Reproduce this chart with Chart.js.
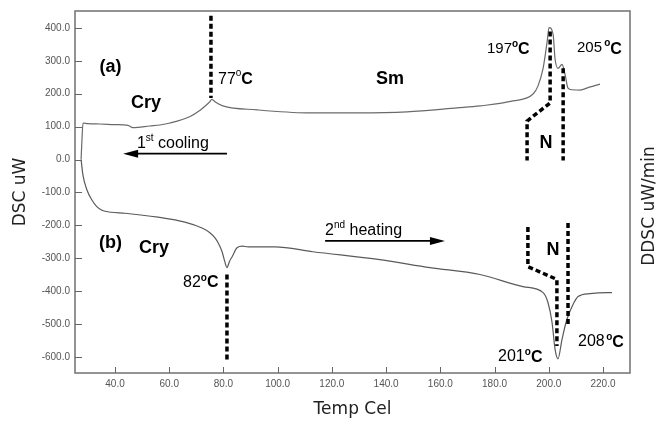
<!DOCTYPE html>
<html><head><meta charset="utf-8">
<script src="https://cdn.jsdelivr.net/npm/chart.js@4.4.1/dist/chart.umd.min.js"></script>
<style>html,body{margin:0;padding:0;background:#fff}#wrap{width:672px;height:421px}</style>
</head><body><div id="wrap"><canvas id="c" width="672" height="421"></canvas></div>
<script>
// ---- data (Temp Cel, DSC uW) ----
const coolingTemp = [218.9, 215.0, 211.5, 208.5, 207.1, 206.0, 204.9, 203.4, 202.3, 201.6, 200.1, 199.4, 197.9, 196.0, 194.2, 186.8, 174.6, 166.2, 147.7, 129.3, 110.8, 92.4, 79.8, 77.0, 75.7, 75.0, 73.5, 71.4, 67.7, 60.3, 56.6, 52.9, 46.6, 44.8, 40.0, 34.5, 30.0, 28.2, 27.8, 27.5];
const coolingDSC  = [229, 220, 211, 212, 217, 259, 289, 277, 307, 380, 401, 358, 277, 223, 199, 178, 163, 157, 145, 142, 142, 151, 163, 175, 183, 176, 164, 150, 131, 111, 105, 102, 97, 104, 106, 108, 109, 111, 57, 0];
const heatingTemp = [27.5, 28.2, 29.7, 31.5, 33.2, 35.2, 38.5, 43.7, 55.9, 65.8, 72.1, 75.0, 76.9, 78.5, 79.5, 80.5, 81.3, 82.2, 83.2, 85.0, 87.0, 89.1, 99.0, 113.0, 137.7, 156.2, 174.6, 190.5, 197.9, 199.7, 201.2, 202.3, 203.4, 204.9, 206.7, 208.6, 210.8, 215.2, 221.5, 223.3];
const heatingDSC  = [0, -48, -93, -123, -142, -154, -160, -163, -175, -190, -208, -222, -238, -260, -280, -310, -328, -310, -295, -268, -263, -265, -265, -280, -304, -328, -349, -386, -404, -434, -494, -575, -605, -545, -485, -446, -416, -407, -404, -404];
const xTickValues = [40, 60, 80, 100, 120, 140, 160, 180, 200, 220];
const yTickValues = [-600, -500, -400, -300, -200, -100, 0, 100, 200, 300, 400];
// dashed transition markers (Temp, DSC)
const mark77T  = [75.4, 75.4];            const mark77V  = [437, 187];
const mark82T  = [81.3, 81.3];            const mark82V  = [-349, -614];
const mark197T = [200.5, 200.5, 192.0, 192.0]; const mark197V = [389, 172, 117, -3];
const mark205T = [205.3, 205.3];          const mark205V = [277, -3];
const mark201T = [192.3, 192.3, 203.0, 203.0]; const mark201V = [-205, -325, -364, -566];
const mark208T = [207.1, 207.1];          const mark208V = [-193, -506];

const pts = (xs, ys) => xs.map((x, i) => ({x, y: ys[i]}));
const SANS = '"Liberation Sans", Arial, sans-serif';

// annotation texts: anchor in data units (Temp, DSC baseline)
const labels = [
  {x: 38.3, y: 265, align: 'center', seg: [['(a)', 'bold 18px']]},
  {x: 51.4, y: 157, align: 'center', seg: [['Cry', 'bold 18px']]},
  {x: 78.0, y: 229, align: 'left', seg: [['77', '16px'], ['o', '10px', -8], ['C', 'bold 16px']]},
  {x: 141.4, y: 229, align: 'center', seg: [['Sm', 'bold 18px']]},
  {x: 177.2, y: 325, align: 'left', seg: [['197', '15px'], ['o', 'bold 10px', -6], ['C', 'bold 16px', 1]]},
  {x: 210.4, y: 328, align: 'left', seg: [['205', '15px'], [' ', '8px'], ['o', 'bold 10px', -6], ['C', 'bold 16px', 2]]},
  {x: 199.0, y: 36, align: 'center', seg: [['N', 'bold 18px']]},
  {x: 48.1, y: 36, align: 'left', seg: [['1', '16px'], ['st', '10px', -7], [' cooling', '16px']]},
  {x: 117.5, y: -229, align: 'left', seg: [['2', '16px'], ['nd', '10px', -7], [' heating', '16px']]},
  {x: 38.3, y: -268, align: 'center', seg: [['(b)', 'bold 18px']]},
  {x: 54.4, y: -283, align: 'center', seg: [['Cry', 'bold 18px']]},
  {x: 65.1, y: -386, align: 'left', seg: [['82', '16px'], ['o', 'bold 10px', -6], ['C', 'bold 16px']]},
  {x: 201.6, y: -289, align: 'center', seg: [['N', 'bold 18px']]},
  {x: 181.3, y: -611, align: 'left', seg: [['201', '16px'], ['o', 'bold 10px', -6], ['C', 'bold 16px', 1]]},
  {x: 210.8, y: -566, align: 'left', seg: [['208', '16px'], [' ', '5px'], ['o', 'bold 10px', -6], ['C', 'bold 16px', 1]]},
];
// arrows: [tailT, tailV, tipT, tipV]
const arrows = [[81.3, 18, 43.0, 18], [117.5, -247, 161.7, -247]];

const deco = {
  id: 'deco',
  afterDatasetsDraw(chart) {
    const {ctx, chartArea: a, scales: {x, y}} = chart;
    ctx.save();
    // frame
    ctx.strokeStyle = '#707070'; ctx.lineWidth = 1.5;
    ctx.strokeRect(a.left, a.top, a.right - a.left, a.bottom - a.top);
    // inward ticks
    ctx.lineWidth = 1; ctx.strokeStyle = '#666';
    ctx.beginPath();
    xTickValues.forEach(v => { const p = Math.round(x.getPixelForValue(v)) + 0.5; ctx.moveTo(p, a.bottom); ctx.lineTo(p, a.bottom - 6); });
    yTickValues.forEach(v => { const p = Math.round(y.getPixelForValue(v)) + 0.5; ctx.moveTo(a.left, p); ctx.lineTo(a.left + 7, p); });
    ctx.stroke();
    // arrows
    ctx.strokeStyle = '#000'; ctx.fillStyle = '#000'; ctx.lineWidth = 1.6;
    arrows.forEach(([t0, v0, t1, v1]) => {
      const x0 = x.getPixelForValue(t0), y0 = y.getPixelForValue(v0);
      const x1 = x.getPixelForValue(t1), y1 = y.getPixelForValue(v1);
      const dir = Math.sign(x1 - x0);
      ctx.beginPath(); ctx.moveTo(x0, y0); ctx.lineTo(x1 - dir * 8, y1); ctx.stroke();
      ctx.beginPath(); ctx.moveTo(x1, y1); ctx.lineTo(x1 - dir * 15, y1 - 4); ctx.lineTo(x1 - dir * 15, y1 + 4); ctx.closePath(); ctx.fill();
    });
    // texts
    ctx.textBaseline = 'alphabetic'; ctx.textAlign = 'left'; ctx.fillStyle = '#000';
    labels.forEach(l => {
      let w = 0;
      l.seg.forEach(s => { ctx.font = s[1] + ' ' + SANS; w += ctx.measureText(s[0]).width; });
      let px = x.getPixelForValue(l.x); const py = y.getPixelForValue(l.y);
      if (l.align === 'center') px -= w / 2;
      l.seg.forEach(s => { ctx.font = s[1] + ' ' + SANS; ctx.fillText(s[0], px, py + (s[2] || 0)); px += ctx.measureText(s[0]).width; });
    });
    // right axis title
    ctx.font = '17px "DejaVu Sans", sans-serif'; ctx.fillStyle = '#222';
    ctx.translate(650, (a.top + a.bottom) / 2 + 14); ctx.rotate(-Math.PI / 2);
    ctx.textAlign = 'center'; ctx.textBaseline = 'middle';
    ctx.fillText('DDSC uW/min', 0, 0);
    ctx.restore();
  }
};

const curve = {showLine: true, pointRadius: 0, borderColor: '#6a6a6a', borderWidth: 1.2, cubicInterpolationMode: 'monotone', order: 2, fill: false};
const dash = {showLine: true, pointRadius: 0, borderColor: '#000', borderWidth: 3.5, borderDash: [5, 3], tension: 0, order: 1, fill: false};

new Chart(document.getElementById('c'), {
  type: 'scatter',
  data: {datasets: [
    {...curve, label: '(a) 1st cooling', data: pts(coolingTemp, coolingDSC)},
    {...curve, label: '(b) 2nd heating', data: pts(heatingTemp, heatingDSC), borderColor: '#5a5a5a'},
    {...dash, data: pts(mark77T, mark77V)},
    {...dash, data: pts(mark82T, mark82V)},
    {...dash, data: pts(mark197T, mark197V)},
    {...dash, data: pts(mark205T, mark205V)},
    {...dash, data: pts(mark201T, mark201V)},
    {...dash, data: pts(mark208T, mark208V)},
  ]},
  options: {
    responsive: false, animation: false,
    layout: {padding: {left: 0, top: 8, right: 42, bottom: 0}},
    plugins: {legend: {display: false}, tooltip: {enabled: false}},
    scales: {
      x: {
        type: 'linear', min: 25.25, max: 229.96,
        afterBuildTicks: s => { s.ticks = xTickValues.map(v => ({value: v})); },
        afterFit: s => { s.height = 48; },
        grid: {display: false, drawTicks: false}, border: {display: false},
        ticks: {padding: 5, color: '#555', font: {family: SANS, size: 10}, callback: v => v.toFixed(1), maxRotation: 0},
        title: {display: true, text: 'Temp Cel', color: '#222', font: {family: '"DejaVu Sans", sans-serif', size: 17}, padding: {top: 0, bottom: 1}}
      },
      y: {
        type: 'linear', min: -648.2, max: 451.2,
        afterBuildTicks: s => { s.ticks = yTickValues.map(v => ({value: v})); },
        afterFit: s => { s.width = 75; },
        grid: {display: false, drawTicks: false}, border: {display: false},
        ticks: {padding: 5, color: '#555', font: {family: SANS, size: 10}, callback: v => v.toFixed(1)},
        title: {display: true, text: 'DSC uW', color: '#222', font: {family: '"DejaVu Sans", sans-serif', size: 17}, padding: {top: 10, bottom: 0}}
      }
    }
  },
  plugins: [deco]
});
</script></body></html>
